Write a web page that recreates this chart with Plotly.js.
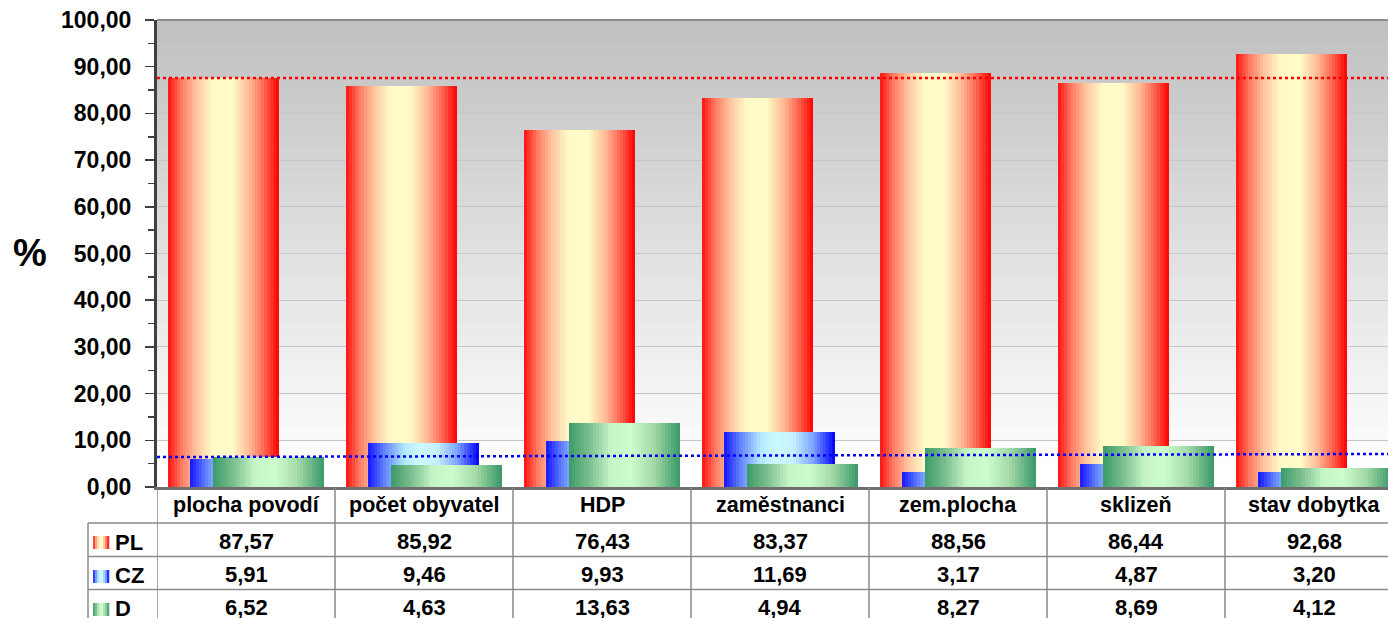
<!DOCTYPE html>
<html>
<head>
<meta charset="utf-8">
<script src="https://cdn.plot.ly/plotly-3.0.1.min.js"></script>
<style>html,body{margin:0;padding:0;background:#fff;}#chart{width:1388px;height:618px;}</style>
</head>
<body>
<div id="chart"></div>
<script>
// ---- data ----
const categories = ['plocha povodí', 'počet obyvatel', 'HDP', 'zaměstnanci', 'zem.plocha', 'sklizeň', 'stav dobytka'];
const seriesNames = ['PL', 'CZ', 'D'];
const PL = [87.57, 85.92, 76.43, 83.37, 88.56, 86.44, 92.68];
const CZ = [5.91, 9.46, 9.93, 11.69, 3.17, 4.87, 3.20];
const D  = [6.52, 4.63, 13.63, 4.94, 8.27, 8.69, 4.12];
const redLineValue = 87.57;
const blueLineValues = [6.42, 7.07];
const yTicks = [0, 10, 20, 30, 40, 50, 60, 70, 80, 90, 100];

// ---- styling ----
const W = 1388, H = 618, ML = 157, MT = 20, PB = 487;
const PW = W - ML, PH = PB - MT;
const CAT_PX = 178;
const xMax = -0.5 + PW / CAT_PX;
const FONT = 'Liberation Sans, Arial, sans-serif';

const gradPL = [[0,'#ff1010'],[0.12,'#ff7a62'],[0.26,'#ffc8a2'],[0.4,'#fffac8'],[0.58,'#fffac8'],[0.74,'#ffb892'],[0.88,'#ff5c4a'],[1,'#ff0000']];
const gradCZ = [[0,'#1414ff'],[0.15,'#6484ff'],[0.33,'#b4eaff'],[0.46,'#ccf8ff'],[0.62,'#c6f2ff'],[0.8,'#7ea6ff'],[1,'#0000ff']];
const gradD  = [[0,'#3a9a68'],[0.18,'#7cbe8e'],[0.38,'#c6f6c6'],[0.56,'#ccfccc'],[0.76,'#a6daa8'],[1,'#389868']];

function hex2rgb(h){return [parseInt(h.slice(1,3),16),parseInt(h.slice(3,5),16),parseInt(h.slice(5,7),16)];}
function interp(stops,t){
  for(let i=0;i<stops.length-1;i++){
    const [t0,c0]=stops[i],[t1,c1]=stops[i+1];
    if(t>=t0&&t<=t1){
      const f=(t-t0)/(t1-t0),a=hex2rgb(c0),b=hex2rgb(c1);
      return 'rgb('+a.map((v,k)=>Math.round(v+(b[k]-v)*f)).join(',')+')';
    }
  }
  return stops[stops.length-1][1];
}

const barW = 111 / CAT_PX;
const seriesDefs = [
  {y: PL, off: (10.5 - 89) / CAT_PX, grad: gradPL},
  {y: CZ, off: (32.5 - 89) / CAT_PX, grad: gradCZ},
  {y: D,  off: (55.5 - 89) / CAT_PX, grad: gradD}
];
const N = 37;
const xIdx = categories.map((c, i) => i);
const traces = [];
seriesDefs.forEach(s => {
  for (let j = 0; j < N; j++) {
    const w = j === N - 1 ? barW / N : Math.min(2 * barW / N, barW - j * barW / N);
    traces.push({
      type: 'bar', x: xIdx, y: s.y,
      offset: s.off + j * barW / N,
      width: w,
      marker: {color: interp(s.grad, (j + 0.5) / N), line: {width: 0}},
      hoverinfo: 'skip', showlegend: false
    });
  }
});
traces.push({type:'scatter', mode:'lines', x:[-0.5, xMax], y:[redLineValue, redLineValue],
  line:{color:'#ff0000', width:2.5, dash:'dot'}, hoverinfo:'skip', showlegend:false});
traces.push({type:'scatter', mode:'lines', x:[-0.5, xMax], y:blueLineValues,
  line:{color:'#0000ff', width:2.5, dash:'dot'}, hoverinfo:'skip', showlegend:false});

// helpers pixel -> paper
const px = v => (v - ML) / PW;
const py = v => (PB - v) / PH;

const shapes = [];
// background vertical gradient
const NB = 40;
for (let k = 0; k < NB; k++) {
  const t = (k + 0.5) / NB; // 0 bottom ... 1 top
  const g = Math.round(255 - 63 * Math.min(1, Math.max(0, (t - 0.03) / 0.97)));
  shapes.push({type:'rect', xref:'paper', yref:'paper', x0:0, x1:1, y0:k/NB, y1:(k+1)/NB + 0.002,
    fillcolor:'rgb('+g+','+g+','+g+')', line:{width:0}, layer:'below'});
}
// top border
shapes.push({type:'line', xref:'paper', yref:'paper', x0:0, x1:1, y0:1, y1:1, line:{color:'#8c8c8c', width:2}});
// table lines
const tableGray = '#8a8a8a';
[523, 556.5, 589.5].forEach(yy => shapes.push({type:'line', xref:'paper', yref:'paper',
  x0:px(88), x1:1, y0:py(yy), y1:py(yy), line:{color:tableGray, width:1.5}}));
for (let i = 0; i <= categories.length; i++) {
  shapes.push({type:'line', xref:'x', yref:'paper', x0:i - 0.5, x1:i - 0.5, y0:py(488), y1:py(H + 2),
    line:{color:tableGray, width:1.5}});
}
shapes.push({type:'line', xref:'paper', yref:'paper', x0:px(88), x1:px(88), y0:py(523), y1:py(H + 2),
  line:{color:tableGray, width:1.5}});

// legend swatches
const swTop = [536, 570, 603];
[gradPL, gradCZ, gradD].forEach((g, r) => {
  const NS = 8, x0 = 93, x1 = 109;
  for (let k = 0; k < NS; k++) {
    shapes.push({type:'rect', xref:'paper', yref:'paper',
      x0:px(x0 + (x1 - x0) * k / NS), x1:px(x0 + (x1 - x0) * (k + 1) / NS + 0.3),
      y0:py(swTop[r] + 13), y1:py(swTop[r]),
      fillcolor:interp(g, (k + 0.5) / NS), line:{width:0}});
  }
});

const annotations = [];
const fmt = v => v.toFixed(2).replace('.', ',');
categories.forEach((c, i) => {
  annotations.push({xref:'x', yref:'paper', x:i, y:py(505), text:'<b>' + c + '</b>', showarrow:false,
    font:{family:FONT, size:21.5, color:'#000'}, xanchor:'center', yanchor:'middle'});
});
const rowY = [541, 574.5, 607.5];
[PL, CZ, D].forEach((arr, r) => {
  annotations.push({xref:'paper', yref:'paper', x:px(113), y:py(rowY[r] + 1), text:'<b>' + seriesNames[r] + '</b>',
    showarrow:false, font:{family:FONT, size:22, color:'#000'}, xanchor:'left', yanchor:'middle'});
  arr.forEach((v, i) => {
    annotations.push({xref:'x', yref:'paper', x:i, y:py(rowY[r]), text:'<b>' + fmt(v) + '</b>', showarrow:false,
      font:{family:FONT, size:22, color:'#000'}, xanchor:'center', yanchor:'middle'});
  });
});
annotations.push({xref:'paper', yref:'paper', x:px(30), y:py(253), text:'<b>%</b>', showarrow:false,
  font:{family:FONT, size:38, color:'#000'}, xanchor:'center', yanchor:'middle'});

const layout = {
  width: W, height: H,
  margin: {l: ML, r: 0, t: MT, b: H - PB, pad: 0},
  paper_bgcolor: '#ffffff', plot_bgcolor: '#ffffff',
  barmode: 'overlay', bargap: 0,
  separators: ', ',
  showlegend: false,
  font: {family: FONT, color: '#000'},
  xaxis: {range: [-0.5, xMax], showticklabels: false, ticks: '', showgrid: false, zeroline: false,
    showline: true, linecolor: '#6e6e6e', linewidth: 2.5, fixedrange: true},
  yaxis: {range: [0, 100], tickvals: yTicks, tickformat: '.2f', ticks: 'outside', ticklen: 9, tickwidth: 1.5,
    tickcolor: '#404040', showline: true, linecolor: '#404040', linewidth: 3, showgrid: true,
    gridcolor: '#c6c6c6', gridwidth: 1, zeroline: false, ticklabelstandoff: 9,
    tickfont: {family: FONT, size: 23, color: '#000', weight: 'bold'},
    minor: {dtick: 5, tick0: 0, ticks: 'outside', ticklen: 6, tickwidth: 1.5, tickcolor: '#404040', showgrid: false},
    fixedrange: true},
  shapes: shapes,
  annotations: annotations
};

Plotly.newPlot('chart', traces, layout, {displayModeBar: false, staticPlot: true});
</script>
</body>
</html>
